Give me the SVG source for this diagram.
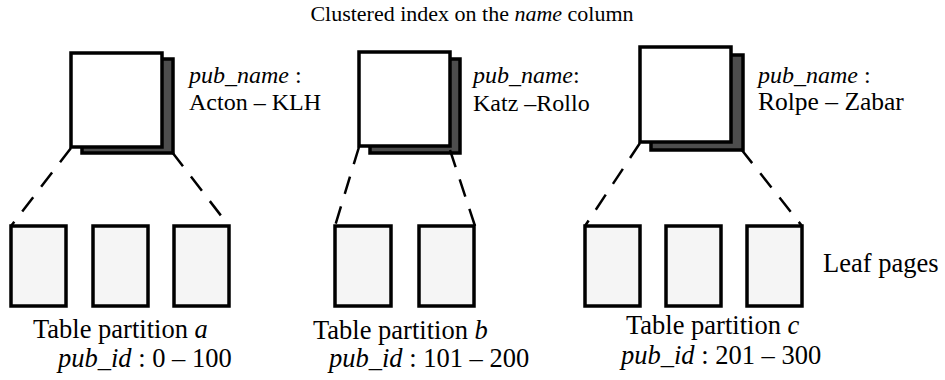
<svg xmlns="http://www.w3.org/2000/svg" width="945" height="380" viewBox="0 0 945 380">
  <style>
    text { font-family: "Liberation Serif", "Times New Roman", serif; fill: #000; }
    .title { font-size: 22px; }
    .lbl { font-size: 24px; }
    .lbl-wide { font-size: 25.5px; }
    .big { font-size: 26.5px; }
    .it { font-style: italic; }
    .front { fill: #ffffff; stroke: #000; stroke-width: 3.5; }
    .shadow { fill: #4d4d4d; stroke: #000; stroke-width: 3.5; }
    .leaf { fill: #f5f5f5; stroke: #000; stroke-width: 3.5; }
    .dash { fill: none; stroke: #000; stroke-width: 2.5; stroke-dasharray: 18 13; }
  </style>

  <text id="title" class="title" x="472" y="21" text-anchor="middle">Clustered index on the <tspan class="it">name</tspan> column</text>

  <!-- index pages, one per partition -->
  <g id="index-a">
    <rect class="shadow" x="82" y="59" width="91" height="94"/>
    <rect class="front" x="71" y="53" width="91" height="94"/>
    <text class="lbl" x="189" y="83"><tspan class="it">pub_name</tspan> :</text>
    <text class="lbl" x="189" y="110">Acton – KLH</text>
  </g>
  <g id="index-b">
    <rect class="shadow" x="370" y="59" width="90" height="94"/>
    <rect class="front" x="359" y="52" width="91" height="94"/>
    <text class="lbl" x="473" y="83"><tspan class="it">pub_name</tspan>:</text>
    <text class="lbl" x="473" y="111">Katz –Rollo</text>
  </g>
  <g id="index-c">
    <rect class="shadow" x="651" y="55" width="92" height="95"/>
    <rect class="front" x="640" y="47" width="91" height="95"/>
    <text class="lbl" x="758" y="83"><tspan class="it">pub_name</tspan> :</text>
    <text class="lbl-wide" x="758" y="110">Rolpe – Zabar</text>
  </g>

  <!-- leaf pages -->
  <g id="leaves-a">
    <rect class="leaf" x="11" y="226" width="55" height="80"/>
    <rect class="leaf" x="93" y="226" width="55" height="80"/>
    <rect class="leaf" x="174" y="226" width="55" height="80"/>
    <text class="big" x="33" y="338">Table partition <tspan class="it">a</tspan></text>
    <text class="big" x="58" y="367"><tspan class="it">pub_id</tspan> : 0 – 100</text>
  </g>
  <g id="leaves-b">
    <rect class="leaf" x="335" y="226" width="56" height="80"/>
    <rect class="leaf" x="419" y="226" width="55" height="80"/>
    <text class="big" x="313" y="339">Table partition <tspan class="it">b</tspan></text>
    <text class="big" x="329" y="367"><tspan class="it">pub_id</tspan> : 101 – 200</text>
  </g>
  <g id="leaves-c">
    <rect class="leaf" x="585" y="226" width="55" height="80"/>
    <rect class="leaf" x="666" y="226" width="55" height="80"/>
    <rect class="leaf" x="747" y="226" width="55" height="80"/>
    <text class="big" x="626" y="334">Table partition <tspan class="it">c</tspan></text>
    <text class="big" x="621" y="364"><tspan class="it">pub_id</tspan> : 201 – 300</text>
  </g>

  <text id="leaf-label" class="big" x="823" y="272">Leaf pages</text>

  <!-- fan-out from each index page to its leaf pages -->
  <g id="connectors">
    <line class="dash" x1="71" y1="148" x2="11" y2="226"/>
    <line class="dash" x1="172" y1="152" x2="229" y2="226"/>
    <line class="dash" x1="359" y1="147" x2="335" y2="226"/>
    <line class="dash" x1="450" y1="150" x2="475" y2="226"/>
    <line class="dash" x1="640" y1="143" x2="585" y2="226"/>
    <line class="dash" x1="741" y1="149" x2="802" y2="226"/>
  </g>
</svg>
